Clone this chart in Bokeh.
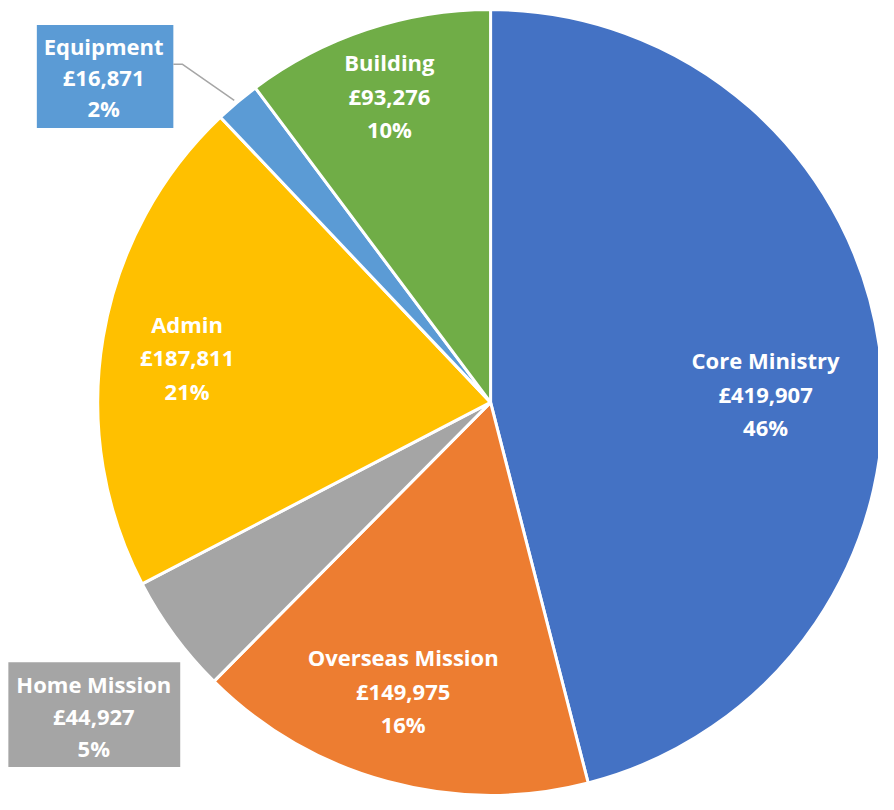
import math
from bokeh.plotting import figure
from bokeh.models import Range1d, ColumnDataSource
from bokeh.core.properties import value
from bokeh.embed import file_html
from bokeh.resources import INLINE

categories = ["Core Ministry", "Overseas Mission", "Home Mission", "Admin", "Equipment", "Building"]
amounts = [419907, 149975, 44927, 187811, 16871, 93276]
colors = ["#4472C4", "#ED7D31", "#A5A5A5", "#FFC000", "#5B9BD5", "#70AD47"]

W, H = 878, 794
# data coords: reference pixel frame (894 x 810), y pointing up
RW, RH = 894, 810
def Y(py):
    return RH - py

p = figure(width=W, height=H, output_backend="svg", toolbar_location=None,
           x_range=Range1d(0, RW), y_range=Range1d(0, RH),
           min_border=0, outline_line_color=None)
p.axis.visible = False
p.grid.visible = False
p.background_fill_color = "white"

cx, cy, R = 499, Y(410), 400
total = sum(amounts)
starts, ends = [], []
cum = 0.0
for a in amounts:
    s = math.pi / 2 - 2 * math.pi * cum / total
    cum += a
    e = math.pi / 2 - 2 * math.pi * cum / total
    starts.append(s)
    ends.append(e)

src = ColumnDataSource(dict(start=starts, end=ends, color=colors))
p.wedge(x=cx, y=cy, radius=R, start_angle="start", end_angle="end",
        direction="clock", fill_color="color", line_color="white", line_width=3,
        source=src)

pct = [f"{round(100 * a / total)}%" for a in amounts]
money = [f"£{a:,}" for a in amounts]

# label anchor (reference px) for each slice's text block (middle line)
label_pos = {
    "Core Ministry": (779, 401),
    "Overseas Mission": (410, 704),
    "Admin": (190, 364),
    "Building": (396, 97),
    "Equipment": (105, 78),
    "Home Mission": (95, 730),
}
gaps = {"Equipment": 32, "Home Mission": 33}

boxes = {"Equipment": (37, 176, 25, 130), "Home Mission": (8, 183, 675, 782)}
for i, c in enumerate(categories):
    if c in boxes:
        l, r, t, b = boxes[c]
        p.quad(left=l, right=r, top=Y(t), bottom=Y(b), fill_color=colors[i], line_color=None)

p.line(x=[176, 185, 238], y=[Y(65), Y(65), Y(102)], line_color="#A6A6A6", line_width=1.5)

xs, ys, txt = [], [], []
for i, c in enumerate(categories):
    lx, ly = label_pos[c]
    gap = gaps.get(c, 34)
    for k, t in enumerate([c, money[i], pct[i]]):
        xs.append(lx)
        ys.append(Y(ly + (k - 1) * gap))
        txt.append(t)

p.text(x=xs, y=ys, text=txt, text_align="center", text_baseline="middle",
       text_color="white", text_font=value("Open Sans"), text_font_style="bold",
       text_font_size="22px")

open("out.html", "w").write(file_html(p, INLINE))
